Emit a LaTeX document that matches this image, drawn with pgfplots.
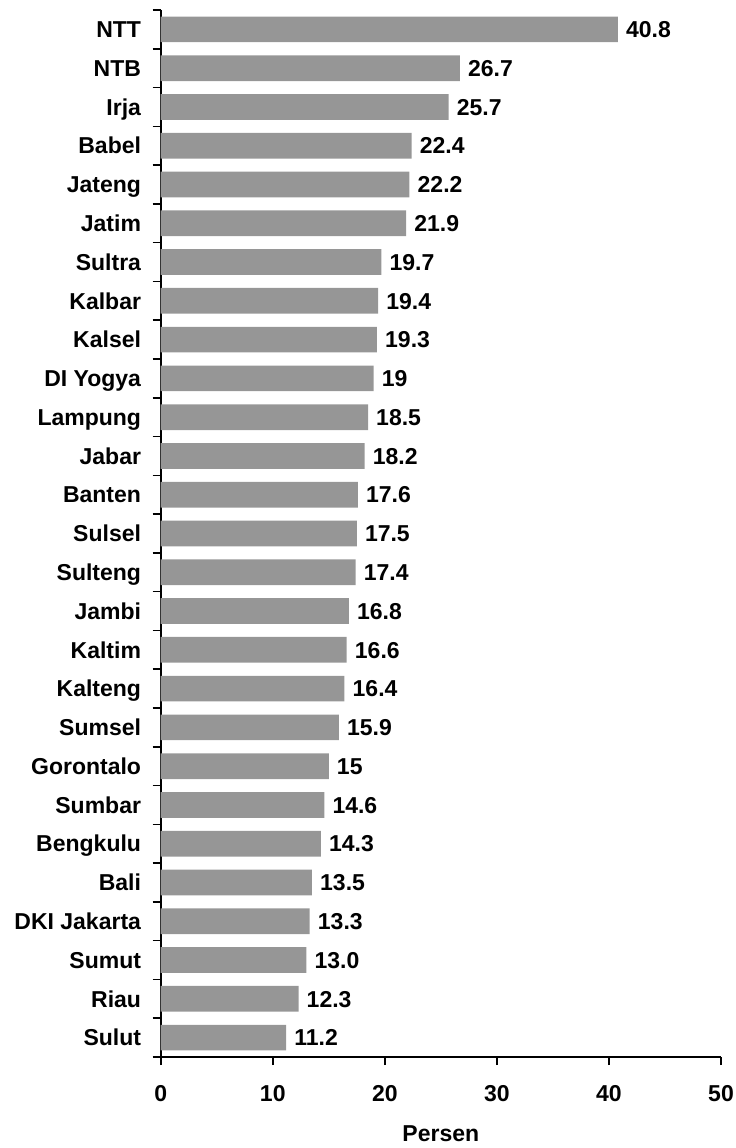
\documentclass[border=0pt]{standalone}
\usepackage{pgfplots}
\pgfplotsset{compat=1.18}
\usepackage{pgfplotstable}
\usepackage{fontspec}
\setmainfont{Liberation Sans}
\definecolor{bargray}{RGB}{150,150,150}
\pgfplotstableread{
idx val lab
0 40.8 40.8
1 26.7 26.7
2 25.7 25.7
3 22.4 22.4
4 22.2 22.2
5 21.9 21.9
6 19.7 19.7
7 19.4 19.4
8 19.3 19.3
9 19.0 19
10 18.5 18.5
11 18.2 18.2
12 17.6 17.6
13 17.5 17.5
14 17.4 17.4
15 16.8 16.8
16 16.6 16.6
17 16.4 16.4
18 15.9 15.9
19 15.0 15
20 14.6 14.6
21 14.3 14.3
22 13.5 13.5
23 13.3 13.3
24 13.0 13.0
25 12.3 12.3
26 11.2 11.2
}\datatable
\begin{document}
\begin{tikzpicture}
\begin{axis}[
  scale only axis, width=560.3pt, height=1047pt,
  xbar, bar width=25.7pt,
  xmin=0, xmax=50, ymin=-0.5, ymax=26.5, y dir=reverse,
  axis x line*=bottom, axis y line*=left,
  axis line style={line width=1.6pt, black},
  xtick={0,10,...,50},
  ytick={0,...,26},
  yticklabels={NTT,NTB,Irja,Babel,Jateng,Jatim,Sultra,Kalbar,Kalsel,DI Yogya,Lampung,Jabar,Banten,Sulsel,Sulteng,Jambi,Kaltim,Kalteng,Sumsel,Gorontalo,Sumbar,Bengkulu,Bali,DKI Jakarta,Sumut,Riau,Sulut},
  minor ytick={-0.5,0.5,...,26.5},
  tick align=outside,
  major tick length=8pt, minor tick length=8pt,
  major y tick style={draw=none},
  minor y tick style={line width=1.6pt, black},
  major x tick style={line width=1.6pt, black},
  /pgf/number format/assume math mode=true,
  tick label style={font=\bfseries\fontsize{23}{27}\selectfont},
  yticklabel style={inner sep=0pt, anchor=east, text height=16.5pt, text depth=0pt, xshift=-11.5pt},
  xticklabel style={inner sep=0pt, yshift=-20pt},
  xlabel={Persen},
  xlabel style={font=\bfseries\fontsize{23}{27}\selectfont, at={(axis description cs:0.5,0)}, anchor=north, inner sep=0pt, yshift=-68pt},
  nodes near coords,
  point meta=explicit symbolic,
  nodes near coords style={anchor=west, font=\bfseries\fontsize{23}{27}\selectfont, inner sep=0pt, text height=16.5pt, text depth=0pt, xshift=8pt, black},
]
\addplot[fill=bargray, draw=none] table[x=val, y=idx, meta=lab] {\datatable};
\end{axis}
\pgfresetboundingbox
\path (current axis.south west) ++(-160.7pt,-91pt) (current axis.north east) ++(14pt,10pt);
\end{tikzpicture}
\end{document}
